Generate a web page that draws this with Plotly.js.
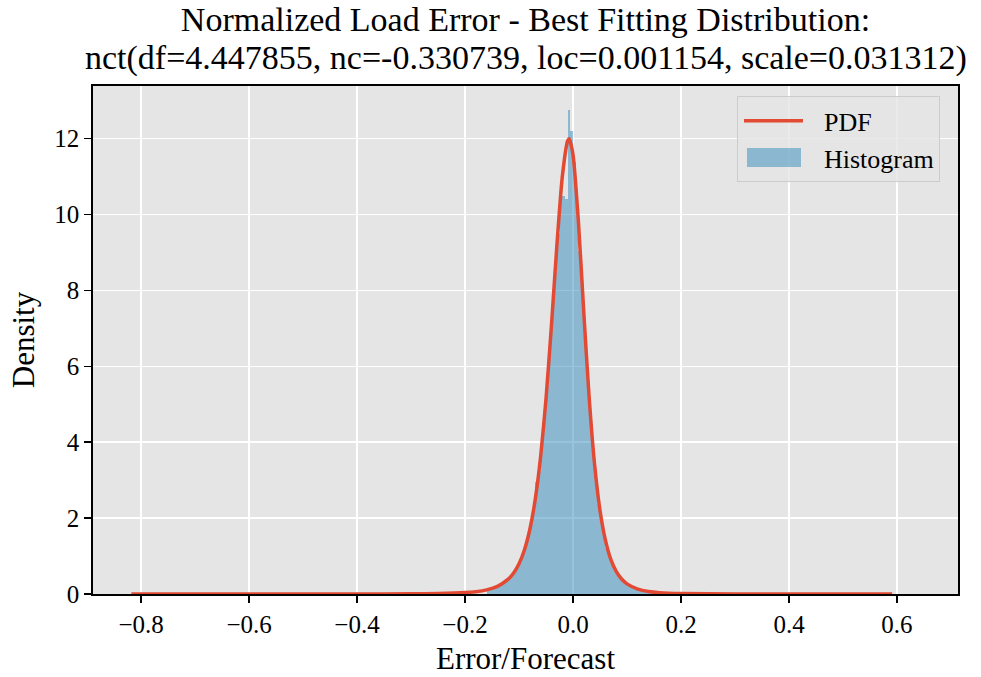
<!DOCTYPE html>
<html>
<head>
<meta charset="utf-8">
<script src="https://cdn.plot.ly/plotly-3.0.1.min.js"></script>
<style>
  html, body { margin: 0; padding: 0; background: #ffffff; }
  #chart { width: 981px; height: 677px; }
</style>
</head>
<body>
<div id="chart"></div>
<script>
// Fitted PDF curve
const pdfX = [-0.818, -0.7, -0.6, -0.5, -0.4, -0.3, -0.25, -0.2, -0.18, -0.16, -0.14, -0.12, -0.11, -0.10,
  -0.09, -0.08, -0.07, -0.06, -0.05, -0.04, -0.03, -0.02, -0.01, -0.007, 0.0, 0.01, 0.02, 0.03, 0.04,
  0.05, 0.06, 0.07, 0.08, 0.09, 0.10, 0.12, 0.14, 0.16, 0.2, 0.3, 0.4, 0.5, 0.591];
const pdfY = [0.00002, 0.00005, 0.00011, 0.0003, 0.001, 0.0046, 0.012, 0.037, 0.062, 0.109, 0.202, 0.391, 0.556, 0.80,
  1.16, 1.70, 2.49, 3.62, 5.15, 7.07, 9.16, 10.98, 11.94, 12.0, 11.58, 9.81, 7.41, 5.16, 3.41,
  2.20, 1.42, 0.913, 0.597, 0.396, 0.267, 0.129, 0.066, 0.036, 0.0126, 0.0017, 0.0005, 0.0002, 0.0001];

// Histogram bins (centers and densities)
const binWidth = 0.005;
const binCenters = [-0.1575, -0.1525, -0.1475, -0.1425, -0.1375, -0.1325, -0.1275, -0.1225, -0.1175, -0.1125,
  -0.1075, -0.1025, -0.0975, -0.0925, -0.0875, -0.0825, -0.0775, -0.0725, -0.0675, -0.0625,
  -0.0575, -0.0525, -0.0475, -0.0425, -0.0375, -0.0325, -0.0275, -0.0225, -0.0175, -0.0125,
  -0.0075, -0.0025, 0.0025, 0.0075, 0.0125, 0.0175, 0.0225, 0.0275, 0.0325, 0.0375,
  0.0425, 0.0475, 0.0525, 0.0575, 0.0625, 0.0675, 0.0725, 0.0775, 0.0825, 0.0875,
  0.0925, 0.0975, 0.1025, 0.1075, 0.1125, 0.1175, 0.1225, 0.1275, 0.1325, 0.1375, 0.1425, 0.1475];
const binDensity = [0.11, 0.13, 0.15, 0.18, 0.21, 0.25, 0.29, 0.34, 0.41, 0.49,
  0.58, 0.70, 0.85, 1.02, 1.24, 1.52, 1.85, 2.40, 2.95, 3.25,
  3.90, 4.65, 5.50, 6.45, 7.45, 8.50, 9.50, 10.40, 10.50, 10.40,
  12.75, 12.20, 11.40, 10.20, 9.05, 7.85, 6.65, 5.55, 4.55, 3.70,
  2.98, 2.38, 1.90, 1.52, 1.22, 0.98, 0.79, 0.64, 0.52, 0.42,
  0.34, 0.28, 0.23, 0.19, 0.16, 0.13, 0.11, 0.095, 0.08, 0.068, 0.058, 0.05];

const xTicks = [-0.8, -0.6, -0.4, -0.2, 0.0, 0.2, 0.4, 0.6];
const yTicks = [0, 2, 4, 6, 8, 10, 12];

const titleLine1 = 'Normalized Load Error - Best Fitting Distribution:';
const titleLine2 = 'nct(df=4.447855, nc=-0.330739, loc=0.001154, scale=0.031312)';

const FONT = 'Liberation Serif, Times New Roman, serif';

const traces = [
  {
    type: 'bar',
    x: binCenters,
    y: binDensity,
    width: binWidth,
    name: 'Histogram',
    legendrank: 2,
    marker: { color: 'rgba(52,138,189,0.5)', line: { width: 0 } },
    hoverinfo: 'skip'
  },
  {
    type: 'scatter',
    mode: 'lines',
    x: pdfX,
    y: pdfY,
    name: 'PDF',
    legendrank: 1,
    line: { color: '#E24A33', width: 3.5, shape: 'spline', smoothing: 0.6 },
    hoverinfo: 'skip'
  }
];

const layout = {
  width: 981,
  height: 677,
  margin: { l: 93, r: 23, t: 86, b: 83 },
  paper_bgcolor: '#ffffff',
  plot_bgcolor: '#E5E5E5',
  font: { family: FONT, color: '#000000', size: 25 },
  title: {
    text: titleLine1,
    font: { family: FONT, size: 34, color: '#000000' },
    x: 0.5,
    xref: 'paper',
    xanchor: 'center',
    y: 0.972,
    yref: 'container',
    yanchor: 'middle'
  },
  annotations: [{
    text: titleLine2,
    xref: 'paper', yref: 'paper',
    x: 0.5, y: 1.0555,
    xanchor: 'center', yanchor: 'middle',
    showarrow: false,
    font: { family: FONT, size: 34, color: '#000000' }
  }],
  bargap: 0,
  showlegend: true,
  legend: {
    x: 0.7445, xanchor: 'left',
    y: 0.9797, yanchor: 'top',
    bgcolor: 'rgba(229,229,229,0.8)',
    bordercolor: '#cccccc',
    borderwidth: 1,
    font: { family: FONT, size: 26, color: '#000000' },
    itemwidth: 76
  },
  xaxis: {
    range: [-0.889, 0.713],
    tickvals: xTicks,
    tickformat: '.1f',
    ticks: 'outside', ticklen: 7, tickwidth: 1.5, tickcolor: '#000000',
    showgrid: true, gridcolor: '#ffffff', gridwidth: 1.5,
    zeroline: false,
    showline: true, linecolor: '#000000', linewidth: 1.8, mirror: true,
    tickfont: { family: FONT, size: 25, color: '#000000' },
    title: { text: 'Error/Forecast', font: { family: FONT, size: 31, color: '#000000' }, standoff: 10 }
  },
  yaxis: {
    range: [0, 13.39],
    tickvals: yTicks,
    ticks: 'outside', ticklen: 7, tickwidth: 1.5, tickcolor: '#000000',
    showgrid: true, gridcolor: '#ffffff', gridwidth: 1.5,
    zeroline: false,
    showline: true, linecolor: '#000000', linewidth: 1.8, mirror: true,
    tickfont: { family: FONT, size: 25, color: '#000000' },
    title: { text: 'Density', font: { family: FONT, size: 31, color: '#000000' }, standoff: 10 }
  }
};

Plotly.newPlot('chart', traces, layout, { displayModeBar: false, staticPlot: true }).then(function () {
  // Shape the legend keys like the reference (long line, wide patch)
  document.querySelectorAll('g.legend g.traces').forEach(function (g) {
    const t = g.querySelector('text.legendtext');
    if (!t) return;
    const name = t.textContent;
    if (name === 'PDF') {
      g.querySelectorAll('g.legendlines path').forEach(function (p) {
        p.setAttribute('d', 'M6,0h59');
        p.removeAttribute('transform');
      });
    } else if (name === 'Histogram') {
      g.querySelectorAll('g.legendpoints path').forEach(function (p) {
        p.setAttribute('d', 'M9,-9.5h54v19h-54z');
        p.setAttribute('transform', 'translate(0,0)');
      });
    }
  });
});
</script>
</body>
</html>
